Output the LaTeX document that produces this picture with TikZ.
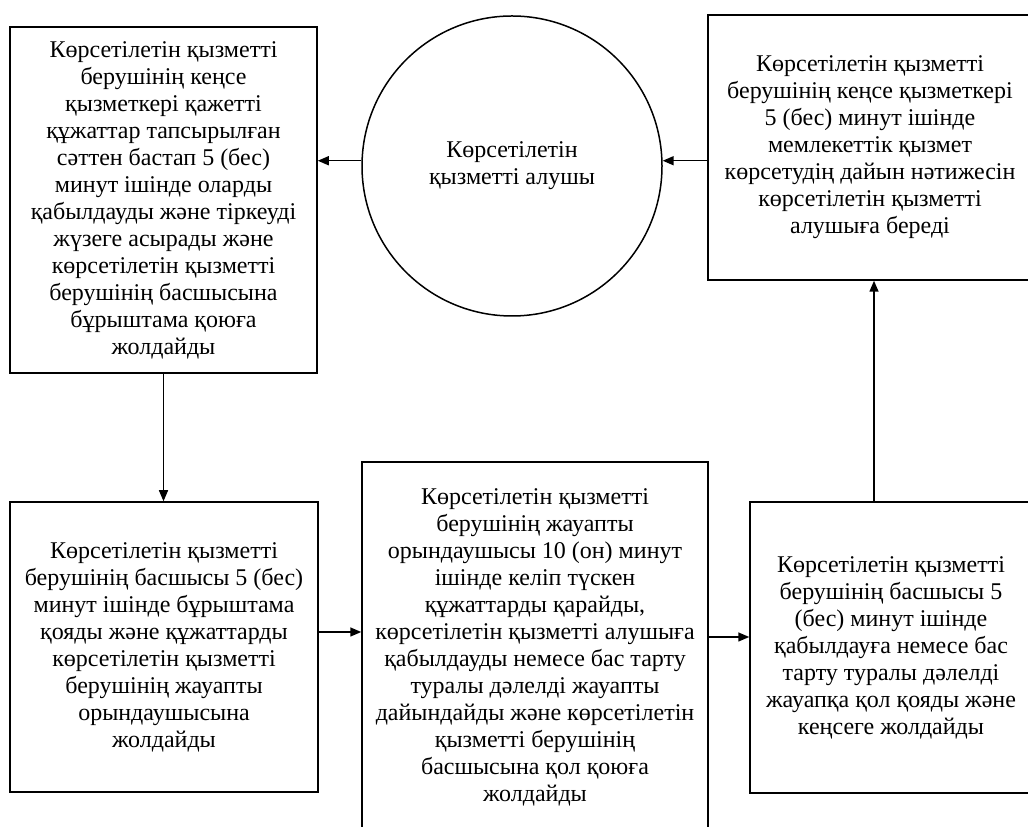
\documentclass[tikz,border=0pt]{standalone}
\usepackage{fontspec}
\setmainfont{Liberation Serif}
\usepackage{tikz}
\usetikzlibrary{positioning, calc, arrows.meta}
\tikzset{
    stepbox/.style={draw, line width=1.5pt, rectangle, align=center, inner sep=0pt,
        font=\fontsize{24}{27}\selectfont},
    clientnode/.style={draw, line width=1.5pt, circle, align=center, inner sep=0pt,
        minimum size=300pt, font=\fontsize{24}{27}\selectfont},
    flow/.style={-{Triangle[length=11pt, width=9pt]}, line width=1.5pt}
}

\begin{document}
\begin{tikzpicture}[x=1pt, y=1pt]
        \clip (0,0) rectangle (1028,827);

        % ----------------------------------------------------
        % Upper row: office, client, result
        % ----------------------------------------------------
        \node[stepbox, minimum width=307pt, minimum height=346pt] (office) at (163.5, 627)
            {Көрсетілетін қызметті\\берушінің кеңсе\\қызметкері қажетті\\құжаттар тапсырылған\\сәттен бастап 5 (бес)\\минут ішінде оларды\\қабылдауды және тіркеуді\\жүзеге асырады және\\көрсетілетін қызметті\\берушінің басшысына\\бұрыштама қоюға\\жолдайды};

        \node[clientnode] (client) at (512, 661) {Көрсетілетін\\қызметті алушы};

        \node[stepbox, minimum width=324pt, minimum height=265pt] (result) at (870, 679.5)
            {Көрсетілетін қызметті\\берушінің кеңсе қызметкері\\5 (бес) минут ішінде\\мемлекеттік қызмет\\көрсетудің дайын нәтижесін\\көрсетілетін қызметті\\алушыға береді};

        % ----------------------------------------------------
        % Lower row: head, executor, head signs
        % ----------------------------------------------------
        \node[stepbox, minimum width=308pt, minimum height=290pt] (head) at (164, 180)
            {Көрсетілетін қызметті\\берушінің басшысы 5 (бес)\\минут ішінде бұрыштама\\қояды және құжаттарды\\көрсетілетін қызметті\\берушінің жауапты\\орындаушысына\\жолдайды};

        \node[stepbox, minimum width=346pt, minimum height=370pt] (executor) at (535, 180)
            {Көрсетілетін қызметті\\берушінің жауапты\\орындаушысы 10 (он) минут\\ішінде келіп түскен\\құжаттарды қарайды,\\көрсетілетін қызметті алушыға\\қабылдауды немесе бас тарту\\туралы дәлелді жауапты\\дайындайды және көрсетілетін\\қызметті берушінің\\басшысына қол қоюға\\жолдайды};

        \node[stepbox, minimum width=282pt, minimum height=291pt] (signing) at (891, 179.5)
            {Көрсетілетін қызметті\\берушінің басшысы 5\\(бес) минут ішінде\\қабылдауға немесе бас\\тарту туралы дәлелді\\жауапқа қол қояды және\\кеңсеге жолдайды};

        % Connectors
        \draw[flow] (client.178) -- (office.east |- client.178);
        \draw[flow] (office.south) -- (office.south |- head.north);
        \draw[flow] ([yshift=15pt]head.east) -- ([yshift=15pt]head.east -| executor.west);
        \draw[flow] ([yshift=10pt]executor.east) -- ([yshift=10pt]executor.east -| signing.west);
        \draw[flow] ([xshift=-17pt]signing.north) -- ([xshift=-17pt]signing.north |- result.south);
        \draw[flow] (result.west |- client.2) -- (client.2);
    \end{tikzpicture}
\end{document}
